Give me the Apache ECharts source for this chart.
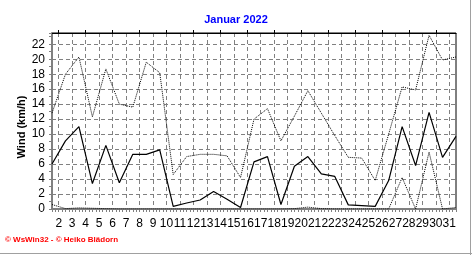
<!DOCTYPE html>
<html><head><meta charset="utf-8">
<script src="https://cdn.jsdelivr.net/npm/echarts@6/dist/echarts.min.js"></script>
<style>html,body{margin:0;padding:0;background:#fff}#c{width:472px;height:255px}</style>
</head><body><div id="c"></div>
<script>
// Days of January 2022 (one point per day)
const days = [1,2,3,4,5,6,7,8,9,10,11,12,13,14,15,16,17,18,19,20,21,22,23,24,25,26,27,28,29,30,31];
// Tick labels shown under the x axis
const tickLabels = ['2','3','4','5','6','7','8','9','10','11','12','13','14','15','16','17','18','19','20','21','22','23','24','25','26','27','28','29','30','31'];
// Mean wind (solid line), km/h
const windMean = [6.0,9.1,11.0,3.4,8.5,3.5,7.3,7.3,7.9,0.35,0.8,1.2,2.35,1.3,0.2,6.3,7.0,0.6,5.7,7.0,4.7,4.35,0.55,0.45,0.35,3.8,11.0,5.8,12.9,6.9,9.7];
// Maximum wind (upper dotted line), km/h
const windMax = [12.8,18.0,20.3,12.3,18.7,14.0,13.6,19.6,18.2,4.6,7.0,7.3,7.3,7.1,4.2,12.0,13.4,9.1,12.4,15.8,12.8,9.8,6.9,6.8,3.8,10.0,16.3,15.9,23.2,19.9,20.3];
// Minimum wind (lower dotted line), km/h
const windMin = [0.6,0.05,0.15,0.1,0.05,0,0,0,0,0,0,0,0,0,0,0,0,0,0.05,0.25,0.05,0,0,0,0,0,4.2,0,7.6,0,0.2];
const yMax = 23.5;

const chart = echarts.init(document.getElementById('c'), null, {renderer:'canvas'});
const gray = '#808080';
const font = 'Liberation Sans, Arial, sans-serif';
const toPts = arr => days.map((d, i) => [d, arr[i]]);

chart.setOption({
  animation: false,
  backgroundColor: '#fff',
  title: {
    text: 'Januar 2022', left: 'center', top: 9,
    textStyle: {color: '#0000ff', fontWeight: 'bold', fontSize: 11, fontFamily: font}
  },
  grid: {left: 52, right: 16, top: 33, bottom: 46, show: true, borderColor: '#000', borderWidth: 1,
         containLabel: false, outerBoundsMode: 'none'},
  xAxis: [
    { // data axis with ticks
      type: 'value', min: 1, max: 31, interval: 1, position: 'bottom',
      axisLine: {show: true, onZero: false, lineStyle: {color: gray, width: 2}},
      axisTick: {show: true, length: 3, lineStyle: {color: gray}},
      minorTick: {show: true, splitNumber: 4, length: 3, lineStyle: {color: gray}},
      axisLabel: {show: false}, splitLine: {show: false}
    },
    { // vertical grid lines between days
      type: 'value', min: 1, max: 31, interval: 1, position: 'bottom',
      axisLine: {show: false}, axisTick: {show: false}, axisLabel: {show: false},
      splitLine: {show: false},
      minorTick: {show: false, splitNumber: 2},
      minorSplitLine: {show: true, lineStyle: {color: gray, width: 1, type: [4, 3]}}
    },
    { // labels
      type: 'category', data: tickLabels, boundaryGap: true, position: 'bottom',
      axisLine: {show: false}, axisTick: {show: false}, splitLine: {show: false},
      axisLabel: {interval: 0, margin: 9, fontSize: 12, color: '#000', fontFamily: font}
    },
    { // top ticks
      type: 'category', data: tickLabels, boundaryGap: true, position: 'top',
      axisLine: {show: true, lineStyle: {color: '#000', width: 1}},
      axisTick: {show: true, alignWithLabel: true, length: 3, lineStyle: {color: '#000'}},
      axisLabel: {show: false}, splitLine: {show: false}
    }
  ],
  yAxis: {
    type: 'value', min: 0, max: yMax, interval: 2,
    axisLine: {show: true, onZero: false, lineStyle: {color: gray, width: 2}},
    axisTick: {show: true, length: 3, lineStyle: {color: gray}},
    minorTick: {show: true, splitNumber: 2, length: 3, lineStyle: {color: gray}},
    axisLabel: {margin: 7, fontSize: 12, color: '#000', fontFamily: font,
                formatter: v => (v % 2 === 0 ? String(v) : '')},
    splitLine: {show: true, lineStyle: {color: gray, width: 1, type: [4, 3]}}
  },
  series: [
    {type: 'line', name: 'Min', xAxisIndex: 0, data: toPts(windMin), showSymbol: false, symbol: 'none',
     lineStyle: {color: '#000', width: 1, type: 'dotted'}, z: 3},
    {type: 'line', name: 'Max', xAxisIndex: 0, data: toPts(windMax), showSymbol: false, symbol: 'none',
     lineStyle: {color: '#000', width: 1, type: 'dotted'}, z: 3},
    {type: 'line', name: 'Mittel', xAxisIndex: 0, data: toPts(windMean), showSymbol: false, symbol: 'none',
     lineStyle: {color: '#000', width: 1.2}, z: 4}
  ],
  graphic: [
    {type: 'text', x: 22, y: 127, rotation: Math.PI / 2,
     style: {text: 'Wind (km/h)', fontSize: 11, fontWeight: 'bold', fontFamily: font, fill: '#000',
             align: 'center', verticalAlign: 'middle'}},
    {type: 'text', x: 5, y: 240,
     style: {text: '© WsWin32 - © Heiko Blädorn', fontSize: 8, fontWeight: 'bold', fontFamily: font, fill: '#ff0000',
             align: 'left', verticalAlign: 'middle'}},
    {type: 'line', shape: {x1: 0, y1: 253.5, x2: 472, y2: 253.5}, style: {stroke: '#a0a0a0', lineWidth: 1}},
    {type: 'line', shape: {x1: 470.5, y1: 0, x2: 470.5, y2: 255}, style: {stroke: '#a0a0a0', lineWidth: 1}}
  ]
});
</script>
</body></html>
